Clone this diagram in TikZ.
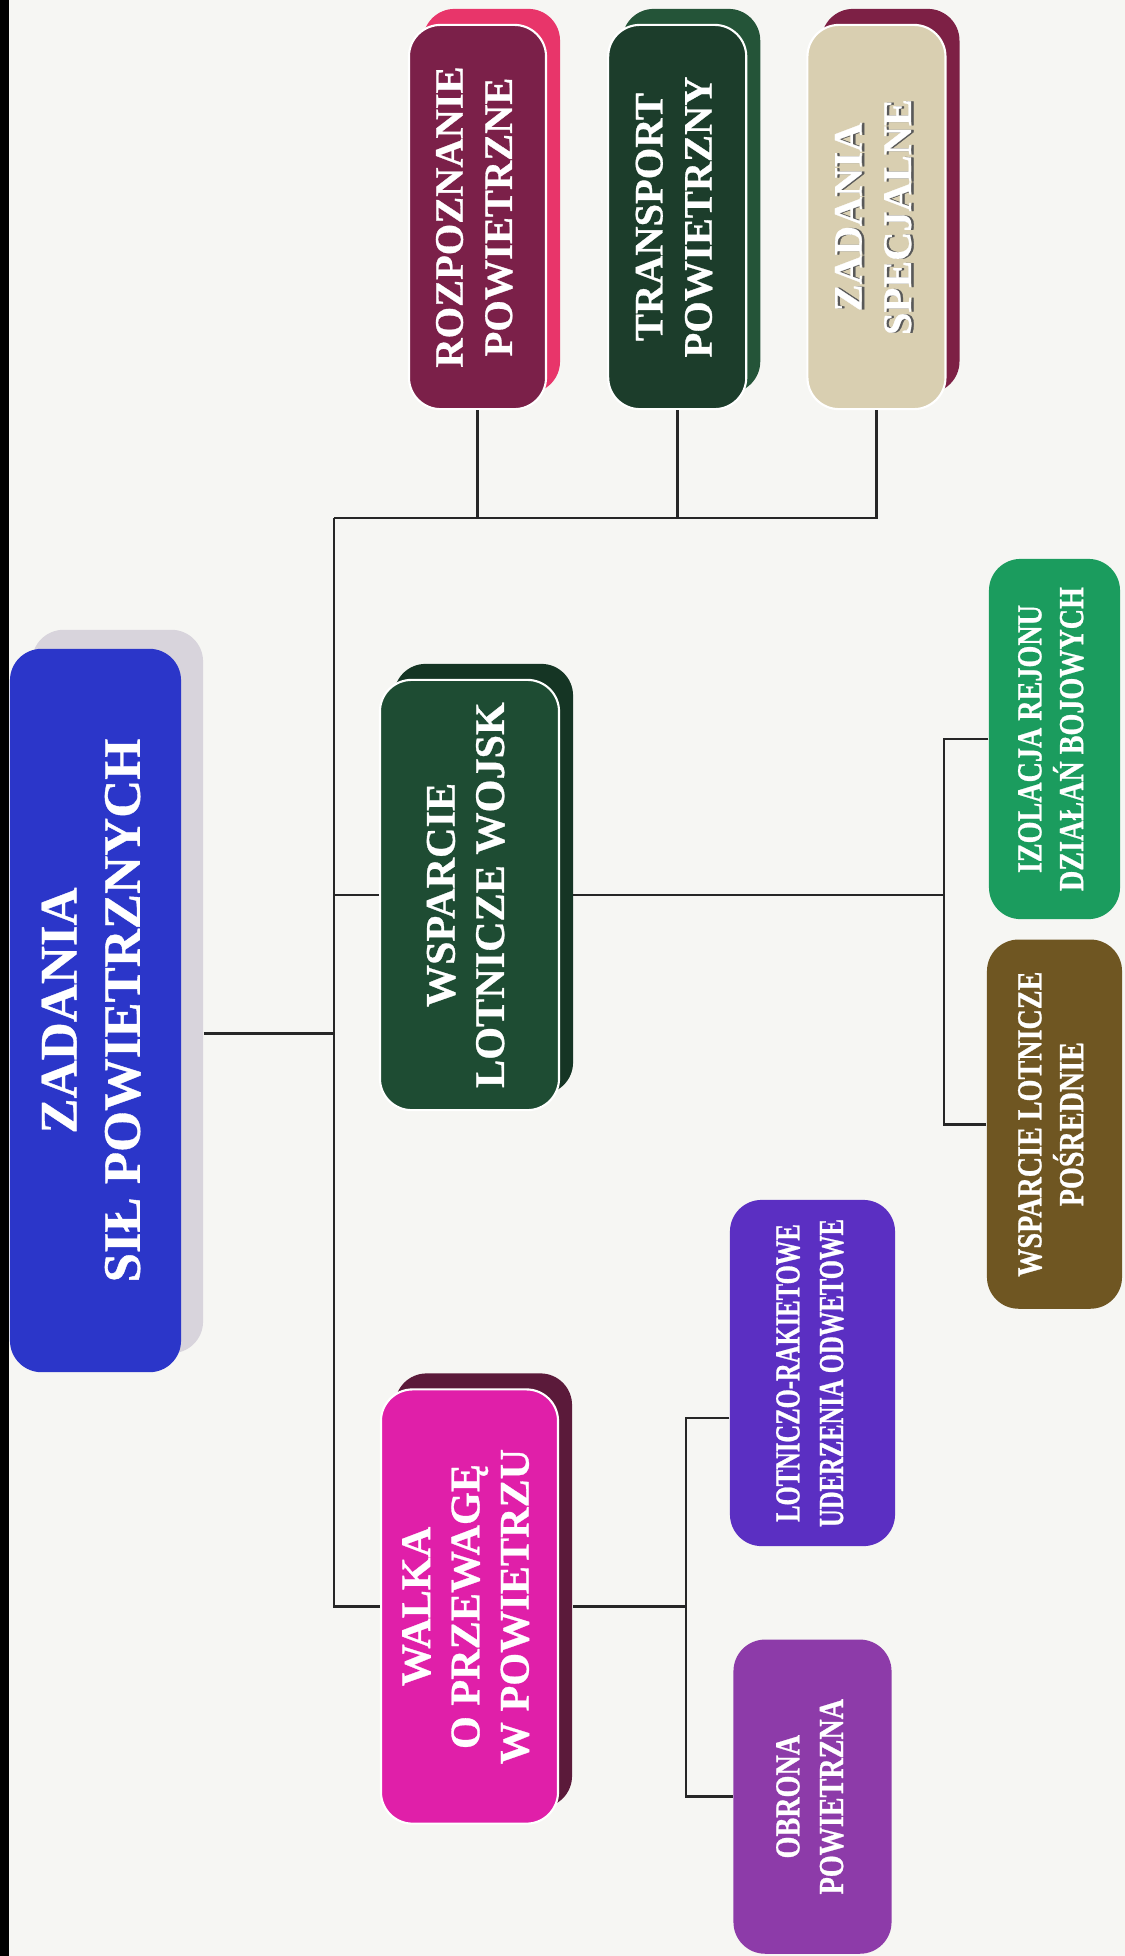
\documentclass[tikz,border=0pt]{standalone}
\usepackage{fontspec}
\setmainfont{Liberation Serif}[BoldFont={Liberation Serif Bold},BoldFeatures={FakeBold=0.7}]
\newfontfamily\condserif{Liberation Serif}[FakeStretch=0.8,BoldFont={Liberation Serif Bold},BoldFeatures={FakeBold=0.7}]
\newfontfamily\narrowserif{Liberation Serif}[FakeStretch=0.7,BoldFont={Liberation Serif Bold},BoldFeatures={FakeBold=0.7}]
\usepackage{graphicx}
\usetikzlibrary{positioning,shadows,calc}

\definecolor{paper}{HTML}{F6F6F3}
\definecolor{mainblue}{HTML}{2B36C9}
\definecolor{mainshade}{HTML}{D8D4DC}
\definecolor{rozfill}{HTML}{7B2049}
\definecolor{rozshade}{HTML}{E8356A}
\definecolor{transfill}{HTML}{1C3D2B}
\definecolor{transshade}{HTML}{245438}
\definecolor{zadfill}{HTML}{D9CFB1}
\definecolor{zadshade}{HTML}{7D2045}
\definecolor{wspfill}{HTML}{1E4C33}
\definecolor{wspshade}{HTML}{153524}
\definecolor{walkafill}{HTML}{E01FA9}
\definecolor{walkashade}{HTML}{5B1A3A}
\definecolor{izofill}{HTML}{1B9C5E}
\definecolor{posfill}{HTML}{6F5622}
\definecolor{lotfill}{HTML}{5B2FC2}
\definecolor{obrfill}{HTML}{8D3BA9}

% text set bottom-to-top, first line on the left
\newcommand{\vlab}[1]{\rotatebox{90}{\begin{tabular}{@{}c@{}}#1\end{tabular}}}
\newcommand{\embossed}[1]{\makebox[0pt][l]{\raisebox{-0.7pt}{\textcolor{black!65}{#1}}}#1}

\begin{document}
\begin{tikzpicture}[x=0.01cm,y=-0.01cm,
   box/.style={rounded corners=9pt,align=center,text=white,inner sep=0pt},
   shade box/.style={box,draw=white,line width=0.6pt,
     general shadow={fill=#1,shadow xshift=0.14cm,shadow yshift=0.16cm}},
   link/.style={draw=black!85,line width=0.8pt},
   topfont/.style={font=\fontsize{11.5}{14}\selectfont\bfseries},
   midfont/.style={font=\fontsize{12}{14}\selectfont\bfseries},
   lowfont/.style={font=\fontsize{10}{11}\condserif\bfseries}]
  \fill[paper] (0,0) rectangle (1125,1956);
  \fill[black] (0,0) rectangle (9,1956);
  \useasboundingbox (0,0) rectangle (1125,1956);

  % root
  \node[box,fill=mainblue,minimum width=1.71cm,minimum height=7.23cm,
    general shadow={fill=mainshade,shadow xshift=0.22cm,shadow yshift=0.19cm},
    font=\fontsize{15}{18}\selectfont\bfseries]
    (main) at (95.5,1010.5) {\vlab{ZADANIA\\SIŁ POWIETRZNYCH}};

  % top row
  \node[shade box=rozshade,fill=rozfill,minimum width=1.37cm,minimum height=3.84cm,topfont]
    (roz) at (477.5,217) {\vlab{ROZPOZNANIE\\POWIETRZNE}};
  \node[shade box=transshade,fill=transfill,minimum width=1.38cm,minimum height=3.84cm,topfont]
    (trans) [right=0.6cm of roz] {\vlab{TRANSPORT\\POWIETRZNY}};
  \node[shade box=zadshade,fill=zadfill,minimum width=1.38cm,minimum height=3.84cm,topfont]
    (zad) [right=0.59cm of trans] {\vlab{\embossed{ZADANIA}\\\embossed{SPECJALNE}}};

  % middle column
  \node[shade box=wspshade,fill=wspfill,minimum width=1.79cm,minimum height=4.3cm,midfont]
    (wsp) at (469.5,895) {\vlab{WSPARCIE\\LOTNICZE WOJSK}};
  \node[shade box=walkashade,fill=walkafill,minimum width=1.77cm,minimum height=4.34cm,midfont]
    (walka) [below=2.77cm of wsp] {\vlab{WALKA\\O PRZEWAGĘ\\W POWIETRZU}};

  % right column
  \node[box,fill=izofill,minimum width=1.31cm,minimum height=3.6cm,lowfont]
    (izo) at (1054.5,739) {\vlab{IZOLACJA REJONU\\DZIAŁAŃ BOJOWYCH}};
  \node[box,fill=posfill,minimum width=1.35cm,minimum height=3.69cm,lowfont]
    (pos) [below=0.19cm of izo] {\vlab{WSPARCIE LOTNICZE\\POŚREDNIE}};
  \node[box,fill=lotfill,minimum width=1.65cm,minimum height=3.46cm,
    font=\fontsize{10}{12.4}\narrowserif\bfseries]
    (lot) at (812.5,1373) {\vlab{LOTNICZO-RAKIETOWE\\UDERZENIA ODWETOWE}};
  \node[box,fill=obrfill,minimum width=1.58cm,minimum height=3.14cm,
    font=\fontsize{10}{12.4}\condserif\bfseries]
    (obr) [below=0.92cm of lot] {\vlab{OBRONA\\POWIETRZNA}};

  % connectors
  \coordinate (bus) at (334,518);
  \coordinate (mainout) at ([shift={(22,23)}]main.east);
  \draw[link] (mainout) -- (mainout -| bus);
  \draw[link] (bus) -| (roz.south);
  \draw[link] (bus) -| (trans.south);
  \draw[link] (bus) -| (zad.south);
  \draw[link] (bus) |- (walka.west);
  \draw[link] (bus |- wsp.west) -- (wsp.west);

  \coordinate (wspbus) at (944,0);
  \draw[link] ([xshift=0.13cm]wsp.east) -- (wsp.east -| wspbus);
  \draw[link] (izo.west) -| (wspbus |- pos.west) -- (pos.west);

  \coordinate (walkabus) at (686,0);
  \draw[link] ([xshift=0.14cm]walka.east) -- (walka.east -| walkabus);
  \draw[link] ([yshift=-0.45cm]lot.west) -| (walkabus |- obr.west) -- (obr.west);
\end{tikzpicture}
\end{document}
